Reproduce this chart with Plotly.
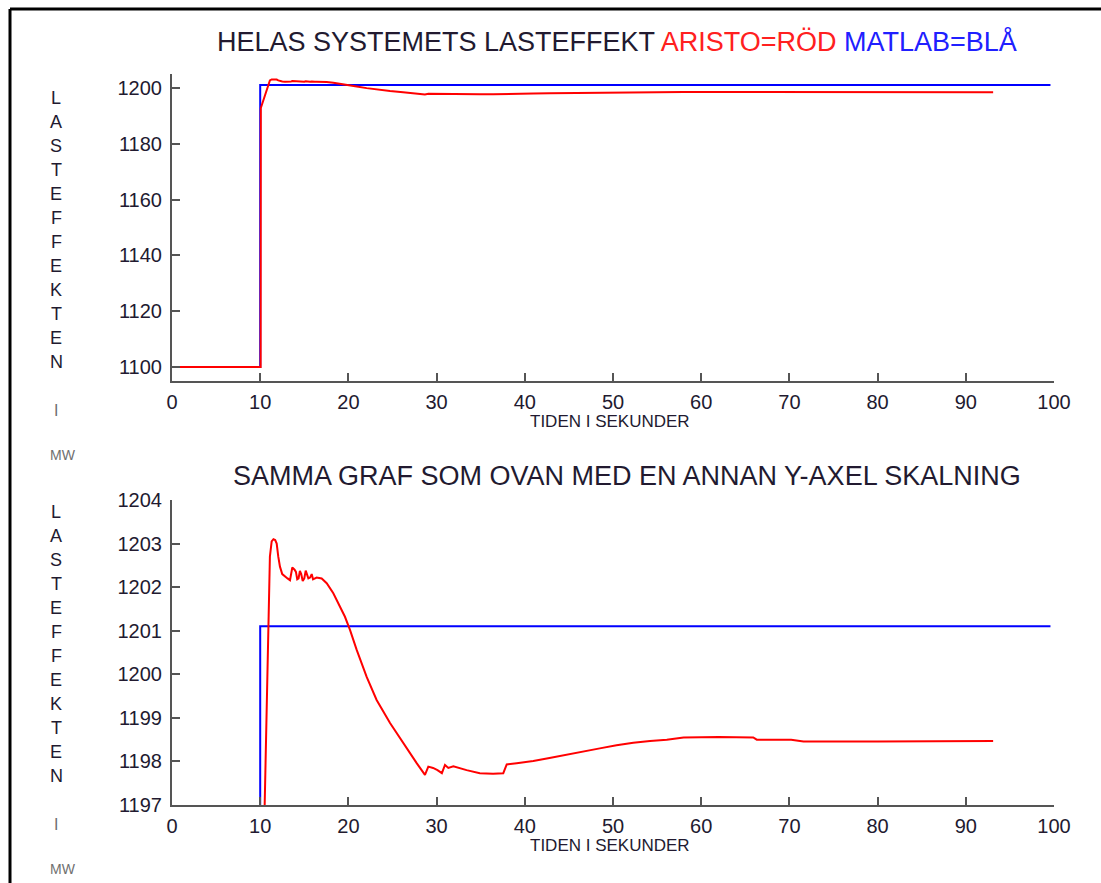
import plotly.graph_objects as go

# ---------------- data ----------------
matlab_t = [0, 10.0, 10.0, 99.6]
matlab_p = [1100, 1100, 1201.1, 1201.1]

aristo_t = [0, 10.05, 10.07, 11.1, 11.3, 11.5, 11.7, 11.87, 12.05, 12.24, 12.5, 12.81, 13.1,
            13.38, 13.5, 13.64, 13.9, 14.05, 14.2, 14.35, 14.5, 14.65, 14.82, 15.0, 15.16,
            15.3, 15.46, 15.65, 15.84, 15.99, 16.2, 16.4, 16.97, 17.54, 18.29, 19.05, 19.61,
            20.18, 20.94, 22.07, 23.2, 24.72, 26.2, 27.74, 28.3, 28.68, 29.06, 29.6, 30.1,
            30.6, 30.95, 31.33, 31.9, 33.4, 34.9, 36.4, 37.56, 37.95, 39.08, 40.96, 42.8,
            44.75, 46.6, 48.5, 50.4, 52.3, 54.2, 56.1, 58.0, 62.0, 65.9, 66.3, 70.2, 71.6,
            80.0, 93.1]
aristo_p = [1100, 1100, 1192.8, 1202.7, 1203.05, 1203.1, 1203.08, 1203.0, 1202.7, 1202.47,
            1202.3, 1202.24, 1202.2, 1202.16, 1202.35, 1202.45, 1202.4, 1202.35, 1202.18,
            1202.2, 1202.37, 1202.3, 1202.14, 1202.2, 1202.38, 1202.3, 1202.2, 1202.22,
            1202.3, 1202.18, 1202.2, 1202.22, 1202.2, 1202.09, 1201.86, 1201.55, 1201.32,
            1201.02, 1200.56, 1199.94, 1199.41, 1198.88, 1198.42, 1197.96, 1197.8, 1197.69,
            1197.88, 1197.85, 1197.8, 1197.73, 1197.92, 1197.85, 1197.89, 1197.8, 1197.73,
            1197.72, 1197.73, 1197.93, 1197.96, 1198.01, 1198.08, 1198.16, 1198.23, 1198.30,
            1198.37, 1198.43, 1198.47, 1198.50, 1198.55, 1198.56, 1198.55, 1198.50, 1198.50,
            1198.46, 1198.46, 1198.47]

x_ticks = [0, 10, 20, 30, 40, 50, 60, 70, 80, 90, 100]
y1_ticks = [1100, 1120, 1140, 1160, 1180, 1200]
y2_ticks = [1197, 1198, 1199, 1200, 1201, 1202, 1203, 1204]

title_top = ("HELAS SYSTEMETS LASTEFFEKT "
             "<span style='color:#ff2020'>ARISTO=RÖD</span> "
             "<span style='color:#2020ff'>MATLAB=BLÅ</span>")
title_bottom = "SAMMA GRAF SOM OVAN MED EN ANNAN Y-AXEL SKALNING"
x_title = "TIDEN I SEKUNDER"
y_letters = list("LASTEFFEKTEN")
y_unit_i = "I"
y_unit_mw = "MW"

# ---------------- figure ----------------
W, H = 1101, 883
FONT = "Liberation Sans, Arial, sans-serif"
TXT = "#221a30"
AX = "#555555"

def px(x):
    return x / W

def py(y):
    return 1 - y / H

fig = go.Figure()
for xa, ya in (("x", "y"), ("x2", "y2")):
    fig.add_trace(go.Scatter(x=matlab_t, y=matlab_p, mode="lines",
                             line=dict(color="#0000ff", width=2), xaxis=xa, yaxis=ya,
                             showlegend=False, hoverinfo="skip"))
    fig.add_trace(go.Scatter(x=aristo_t, y=aristo_p, mode="lines",
                             line=dict(color="#ff0000", width=2), xaxis=xa, yaxis=ya,
                             showlegend=False, hoverinfo="skip"))

xdom = [px(172), px(1054)]
common_x = dict(range=[0, 100], tickvals=x_ticks, ticks="inside", ticklen=8, tickwidth=2,
                tickcolor=AX, showline=True, linecolor=AX, linewidth=2, showgrid=False,
                zeroline=False, tickfont=dict(family=FONT, size=20, color=TXT),
                ticklabelstandoff=2, fixedrange=True, automargin=False)
common_y = dict(ticks="inside", ticklen=8, tickwidth=2, tickcolor=AX, showline=True,
                linecolor=AX, linewidth=2, showgrid=False, zeroline=False,
                tickfont=dict(family=FONT, size=20, color=TXT), ticklabelstandoff=4,
                fixedrange=True, automargin=False)

fig.update_layout(
    width=W, height=H, autosize=False,
    margin=dict(l=0, r=0, t=0, b=0, pad=0),
    paper_bgcolor="white", plot_bgcolor="white",
    xaxis=dict(domain=xdom, anchor="y", **common_x),
    yaxis=dict(domain=[py(381), py(74)], anchor="x", range=[1095, 1205],
               tickvals=y1_ticks, **common_y),
    xaxis2=dict(domain=xdom, anchor="y2", **common_x),
    yaxis2=dict(domain=[py(805), py(500)], anchor="x2", range=[1197, 1204],
                tickvals=y2_ticks, **common_y),
)

ann = []
ann.append(dict(x=px(617), y=py(42), xref="paper", yref="paper", text=title_top,
                showarrow=False, font=dict(family=FONT, size=27, color=TXT),
                xanchor="center", yanchor="middle"))
ann.append(dict(x=px(627), y=py(476), xref="paper", yref="paper", text=title_bottom,
                showarrow=False, font=dict(family=FONT, size=27, color=TXT),
                xanchor="center", yanchor="middle"))
for ycen in (421, 845):
    ann.append(dict(x=px(610), y=py(ycen), xref="paper", yref="paper", text=x_title,
                    showarrow=False, font=dict(family=FONT, size=17, color=TXT),
                    xanchor="center", yanchor="middle"))
for ystart in (98, 512):
    for i, ch in enumerate(y_letters):
        ann.append(dict(x=px(56), y=py(ystart + 24 * i), xref="paper", yref="paper",
                        text=ch, showarrow=False,
                        font=dict(family=FONT, size=18, color=TXT),
                        xanchor="center", yanchor="middle"))
    ann.append(dict(x=px(56), y=py(ystart + 24 * 11 + 48), xref="paper", yref="paper",
                    text=y_unit_i, showarrow=False,
                    font=dict(family=FONT, size=16, color="#707070"),
                    xanchor="center", yanchor="middle"))
    ann.append(dict(x=px(63), y=py(ystart + 24 * 11 + 93), xref="paper", yref="paper",
                    text=y_unit_mw, showarrow=False,
                    font=dict(family=FONT, size=14, color="#707070"),
                    xanchor="center", yanchor="middle"))
fig.update_layout(annotations=ann)

# outer frame (top and left edges)
fig.add_shape(type="line", xref="paper", yref="paper", x0=px(10), y0=py(9), x1=1.0, y1=py(9),
              line=dict(color="black", width=3), layer="above")
fig.add_shape(type="line", xref="paper", yref="paper", x0=px(10), y0=py(9), x1=px(10), y1=0,
              line=dict(color="black", width=3), layer="above")

fig.write_html(
    "out.html",
    config={"displayModeBar": False},
    post_script="document.body.style.margin='0';document.body.style.overflow='hidden';",
)
